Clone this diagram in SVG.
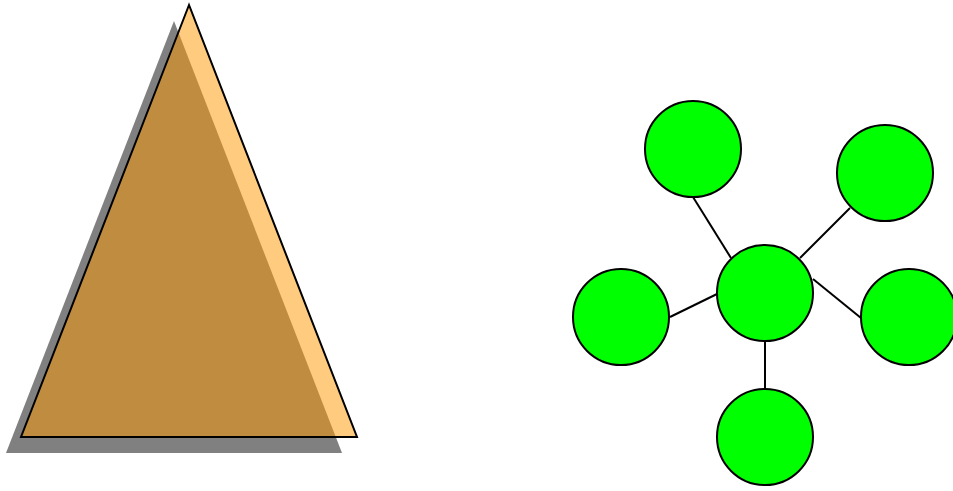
<svg xmlns="http://www.w3.org/2000/svg" width="953" height="491" viewBox="0 0 953 491">
<style>
.node{fill:#00FF00;stroke:#000;stroke-width:2}
.edge{stroke:#000;stroke-width:2;fill:none}
</style>
<rect width="953" height="491" fill="#fff"/>
<g id="triangle">
<polygon points="174,21 6,453 342,453" fill="#808080"/>
<polygon points="189,5 21,437 357,437" fill="#FF9900" fill-opacity="0.5" stroke="#000" stroke-width="2" stroke-linejoin="miter"/>
</g>
<g id="connectors">
<line class="edge" x1="693" y1="197" x2="731" y2="258"/>
<line class="edge" x1="850" y1="208" x2="800" y2="258"/>
<line class="edge" x1="670" y1="317" x2="717" y2="294"/>
<line class="edge" x1="813" y1="279" x2="861" y2="318"/>
<line class="edge" x1="765" y1="341" x2="765" y2="389"/>
</g>
<g id="n-center"><circle class="node" cx="765" cy="293" r="48"/></g>
<g id="n-topleft"><circle class="node" cx="693" cy="149" r="48"/></g>
<g id="n-topright"><circle class="node" cx="885" cy="173" r="48"/></g>
<g id="n-left"><circle class="node" cx="621" cy="317" r="48"/></g>
<g id="n-right"><circle class="node" cx="909" cy="317" r="48"/></g>
<g id="n-bottom"><circle class="node" cx="765" cy="437" r="48"/></g>
</svg>
